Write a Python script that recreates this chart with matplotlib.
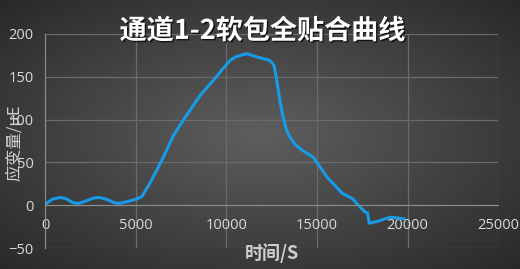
import matplotlib
matplotlib.use('Agg')
import matplotlib.pyplot as plt
import matplotlib.patheffects as pe
import numpy as np

plt.rcParams['font.family'] = ['Noto Sans CJK SC', 'DejaVu Sans']

# time (s) and strain readings
time_s = [0, 200, 400, 830, 1100, 1300, 1550, 1770, 2000, 2400, 2700, 2980,
          3300, 3500, 3800, 4030, 4300, 4690, 5000, 5240, 5340,
          5800, 6530, 7080, 7620, 8550, 9380, 9800, 10210, 10500, 10800,
          11130, 11400, 11700, 12040, 12300, 12500, 12640, 12750, 12870,
          13000, 13150, 13320, 13520, 13800, 14070, 14500, 14800, 15550,
          16390, 16940, 17380, 17660, 17800, 17880, 18320, 19040, 19480, 19800]
strain = [1, 4, 7, 9, 8, 6, 3, 2, 3, 6, 8.5, 9,
          7.5, 6, 3, 2, 3, 5, 7, 9, 10,
          26, 56, 81, 99, 128, 148, 159, 169, 173, 175,
          177, 175, 173, 171, 170, 167, 163, 150, 134,
          117, 102, 88, 79, 71, 66, 60, 56, 33,
          14, 8, -2, -8, -9, -21, -19, -14, -15, -16]
x_ticks = [0, 5000, 10000, 15000, 20000, 25000]
y_ticks = [-50, 0, 50, 100, 150, 200]

title = '通道1-2软包全贴合曲线'
xlabel = '时间/S'
ylabel = '应变量/μE'

fig = plt.figure(figsize=(5.2, 2.69), dpi=100)

# radial dark-grey background
bg = fig.add_axes([0, 0, 1, 1], zorder=0)
yy, xx = np.mgrid[-1:1:269j, -1:1:520j]
r = np.sqrt(xx**2 + yy**2) / np.sqrt(2)
shade = 0.37 - 0.21 * r
bg.imshow(np.dstack([shade, shade, shade]), aspect='auto', extent=[0, 1, 0, 1])
bg.axis('off')

ax = fig.add_axes([0.0865, 0.078, 0.8715, 0.796], zorder=1)
ax.patch.set_alpha(0)
ax.plot(time_s, strain, color='#179BE8', lw=2.2, solid_joinstyle='round')

ax.set_xlim(0, 25000)
ax.set_ylim(-50, 200)
ax.set_xticks(x_ticks)
ax.set_yticks(y_ticks)
ax.grid(True, color='#6b6b6b', lw=0.9)
ax.set_axisbelow(True)
for s in ['top', 'right']:
    ax.spines[s].set_visible(False)
ax.spines['bottom'].set_position(('data', 0))
ax.spines['bottom'].set_color('#8c8c8c')
ax.spines['left'].set_color('#8c8c8c')
ax.tick_params(length=0, labelsize=10.5, labelcolor='#d9d9d9')
ax.tick_params(axis='x', pad=9)
ax.tick_params(axis='y', pad=8)
for lab in ax.get_xticklabels() + ax.get_yticklabels():
    lab.set_family(['Open Sans', 'DejaVu Sans'])

fig.text(0.505, 0.885, title, ha='center', va='center', fontsize=19.5,
         fontweight='bold', color='white',
         path_effects=[pe.withSimplePatchShadow(offset=(1, -1), shadow_rgbFace='black', alpha=0.7)])
fig.text(0.523, 0.058, xlabel, ha='center', va='center', fontsize=13,
         fontweight='bold', color='#cfcfcf')
fig.text(0.029, 0.47, ylabel, ha='center', va='center', fontsize=12,
         rotation=90, color='#cfcfcf')

fig.savefig('out.png', dpi=100)
